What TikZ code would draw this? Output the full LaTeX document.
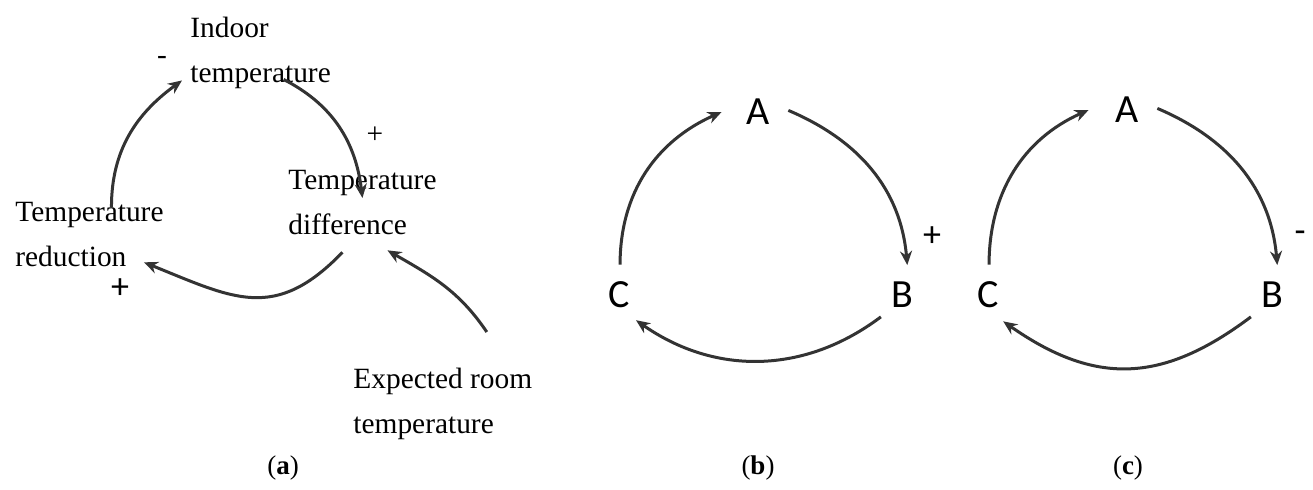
\documentclass[tikz,border=0pt]{standalone}
\usepackage{fontspec}
\setmainfont{Liberation Serif}
\newfontfamily\letterfont{Carlito}
\usetikzlibrary{arrows.meta}

\begin{document}
\begin{tikzpicture}[x=0.5pt, y=0.5pt,
  link/.style={-{Stealth[length=7pt,width=6pt]}, line width=1.5pt, draw=black!80},
  varname/.style={font=\fontsize{14.7}{22.5}\selectfont, align=left, inner sep=0pt, anchor=north west},
  letter/.style={circle, minimum size=30pt, inner sep=0pt, font=\letterfont\fontsize{20}{22}\selectfont},
  sign/.style={inner sep=0pt, font=\fontsize{14.7}{16}\selectfont},
  bigsign/.style={inner sep=0pt, font=\letterfont\fontsize{18}{20}\selectfont},
  caption/.style={font=\fontsize{13.5}{15}\selectfont}]
  \useasboundingbox (0,0) rectangle (1313,-490);

  % (a) indoor temperature loop
  \node[varname] (ind) at (190,-17)  {Indoor\\temperature};
  \node[varname] (dif) at (288,-170) {Temperature\\difference};
  \node[varname] (red) at (15,-202)  {Temperature\\reduction};
  \node[varname] (exp) at (353,-368) {Expected room\\temperature};

  \node[sign]    (am) at (162,-60)  {-};
  \node[sign]    (ap) at (375,-135) {+};
  \node[bigsign] (aq) at (120,-289) {+};

  \draw[link] ([shift={(11pt,-2.5pt)}]red.north) to[out=90, in=216] ([shift={(-4pt,4.5pt)}]ind.south west);
  \draw[link] ([shift={(11.5pt,5pt)}]ind.south) to[out=-27, in=97] ([yshift=-14pt]dif.north);
  \draw[link] ([shift={(-10pt,-8.5pt)}]dif.south) to[out=226, in=-22, looseness=1.25] ([shift={(-10pt,2.5pt)}]red.south east);
  \draw[link] ([shift={(22pt,18pt)}]exp.north) to[out=124, in=-30] ([shift={(12.5pt,-7.5pt)}]dif.south);

  \node[caption] (capa) at (283,-468) {(\textbf{a})};

  % (b) positive link
  \node[letter] (bA) at (758,-112) {A};
  \node[letter] (bB) at (902,-295) {B};
  \node[letter] (bC) at (619,-295) {C};
  \node[bigsign] (bs) at (932,-237) {+};

  \draw[link] (bC.88) to[out=90, in=204] ([xshift=-3pt]bA.180);
  \draw[link] (bA.3) to[out=-23, in=95] (bB.80);
  \draw[link] (bB.226) to[out=217, in=-35] (bC.304);

  \node[caption] (capb) at (758,-468) {(\textbf{b})};

  % (c) negative link
  \node[letter] (cA) at (1127,-110) {A};
  \node[letter] (cB) at (1272,-295) {B};
  \node[letter] (cC) at (988,-295)  {C};
  \node[bigsign] (cs) at (1300,-237) {-};

  \draw[link] (cC.88) to[out=90, in=204] ([xshift=-4pt]cA.180);
  \draw[link] (cA.3) to[out=-23, in=95] (cB.80);
  \draw[link] (cB.226) to[out=217, in=-35, looseness=1.15] (cC.300);

  \node[caption] (capc) at (1128,-468) {(\textbf{c})};
\end{tikzpicture}
\end{document}
